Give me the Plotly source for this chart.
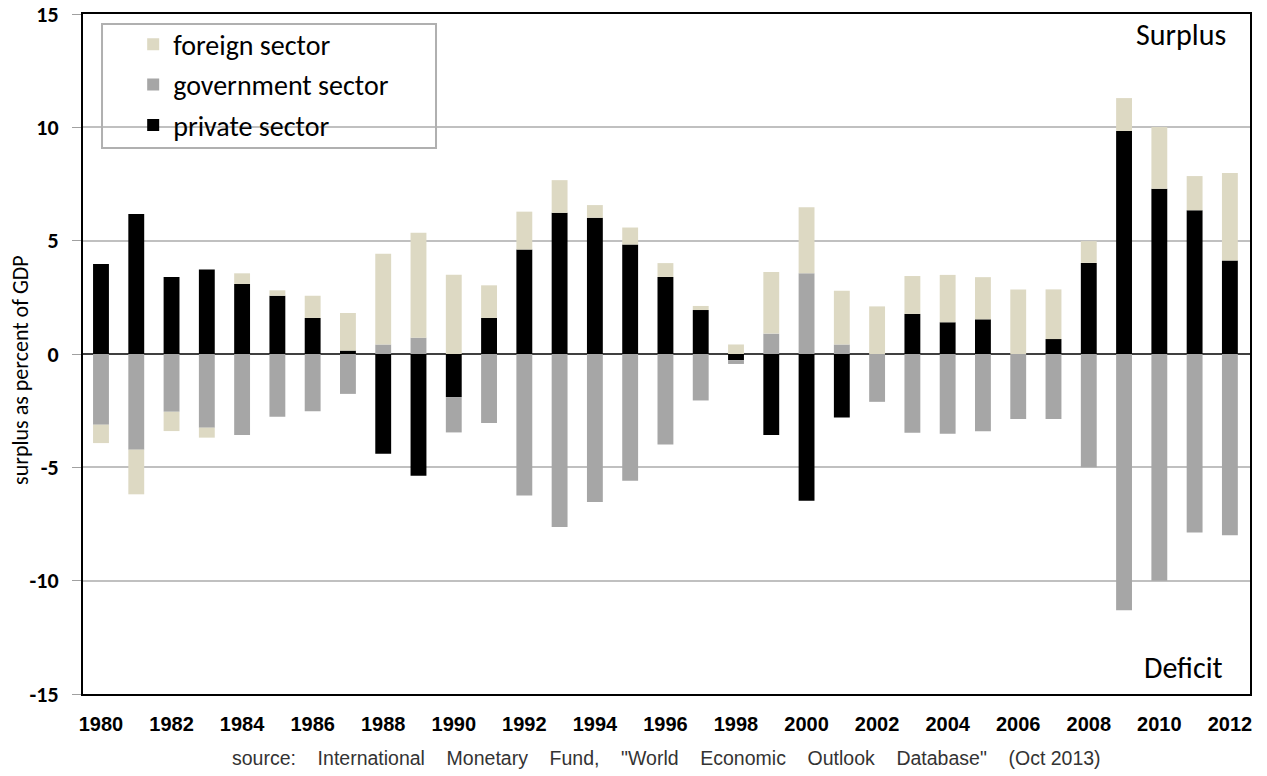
import plotly.graph_objects as go

years = list(range(1980, 2013))

private_sector = [3.97, 6.18, 3.40, 3.73, 3.09, 2.57, 1.59, 0.15, -4.40, -5.37,
                  -1.90, 1.59, 4.61, 6.23, 6.01, 4.83, 3.40, 1.94, -0.27, -3.57,
                  -6.47, -2.80, 0.0, 1.77, 1.40, 1.53, 0.0, 0.66, 4.02, 9.84,
                  7.29, 6.34, 4.13]
government_sector = [-3.12, -4.22, -2.55, -3.25, -3.57, -2.77, -2.53, -1.76, 0.42, 0.72,
                     -1.56, -3.04, -6.24, -7.63, -6.53, -5.59, -3.99, -2.05, -0.17, 0.90,
                     3.56, 0.42, -2.11, -3.47, -3.52, -3.41, -2.87, -2.87, -5.00, -11.31,
                     -10.00, -7.87, -8.00]
foreign_sector = [-0.81, -1.97, -0.85, -0.44, 0.47, 0.24, 0.98, 1.66, 4.00, 4.63,
                  3.50, 1.44, 1.67, 1.44, 0.56, 0.75, 0.61, 0.18, 0.42, 2.72,
                  2.91, 2.37, 2.10, 1.67, 2.09, 1.86, 2.85, 2.19, 0.96, 1.45,
                  2.73, 1.51, 3.85]

y_ticks = [-15, -10, -5, 0, 5, 10, 15]
y_ticktext = ["-15", "-10", "-5", "0", "5", "10", "15"]

calibri = "Carlito, Lato, 'Liberation Sans', sans-serif"
narrow = "'Liberation Sans Narrow', 'Arial Narrow', 'Liberation Sans', sans-serif"

fig = go.Figure()

# stacking order: private first, then government, then foreign
fig.add_trace(go.Bar(x=years, y=private_sector, name="private sector",
                     legendgroup="p", legendrank=3,
                     marker=dict(color="#000000", line=dict(width=0)), width=0.45))
fig.add_trace(go.Bar(x=years, y=government_sector, name="government sector",
                     legendgroup="g", legendrank=2,
                     marker=dict(color="#a6a6a6", line=dict(width=0)), width=0.45))
fig.add_trace(go.Bar(x=years, y=foreign_sector, name="foreign sector",
                     legendgroup="f", legendrank=1,
                     marker=dict(color="#ddd9c3", line=dict(width=0)), width=0.45))

sp = "\u00a0" * 4
source = ("source:" + sp + "International" + sp + "Monetary" + sp + "Fund," + sp
          + "\"World" + sp + "Economic" + sp + "Outlook" + sp + "Database\"" + sp + "(Oct 2013)")

fig.update_layout(
    barmode="relative",
    width=1267, height=776,
    # page body adds an 8px offset, so margins are shifted to compensate
    margin=dict(l=75, r=25, t=6, b=90, autoexpand=False),
    paper_bgcolor="white",
    plot_bgcolor="white",
    showlegend=True,
    legend=dict(
        traceorder="grouped",
        x=0.043, y=0.992, xanchor="left", yanchor="top",
        bgcolor="rgba(0,0,0,0)", borderwidth=0,
        font=dict(family=calibri, size=28, color="#000000"),
        itemwidth=30, tracegroupgap=1,
    ),
    xaxis=dict(
        range=[1979.49, 2012.57], automargin=False,
        tickmode="array", tickvals=years[::2], ticktext=[str(y) for y in years[::2]],
        showgrid=False, zeroline=False,
        showline=True, linecolor="#000000", linewidth=2, mirror=True,
        ticks="", ticklabelstandoff=11,
        tickfont=dict(family=narrow, size=20, color="#000000", weight="bold"),
    ),
    yaxis=dict(
        range=[-15, 15], automargin=False,
        tickmode="array", tickvals=y_ticks, ticktext=y_ticktext,
        showgrid=True, gridcolor="#c0c0c0", gridwidth=1.5,
        zeroline=True, zerolinecolor="#404040", zerolinewidth=1.5,
        showline=True, linecolor="#000000", linewidth=2, mirror=True,
        ticks="outside", ticklen=9, tickcolor="#a0a0a0",
        ticklabelstandoff=9, ticklabeloverflow="allow",
        tickfont=dict(family=calibri, size=22, color="#000000", weight="bold"),
    ),
    shapes=[
        # legend frame
        dict(type="rect", xref="paper", yref="paper",
             x0=0.0163, x1=0.3025, y0=0.8029, y1=0.9853,
             line=dict(color="#b0b0b0", width=2), fillcolor="rgba(0,0,0,0)", layer="above"),
    ],
    annotations=[
        dict(text="surplus as percent of GDP", textangle=-90,
             x=-0.0535, y=0.476, xref="paper", yref="paper",
             xanchor="center", yanchor="middle", showarrow=False,
             font=dict(family=calibri, size=22, color="#000000")),
        dict(text="Surplus", x=0.9815, y=1.0, xref="paper", yref="paper",
             xanchor="right", yanchor="top", showarrow=False,
             font=dict(family=calibri, size=30, color="#000000")),
        dict(text="Deficit", x=0.979, y=0.009, xref="paper", yref="paper",
             xanchor="right", yanchor="bottom", showarrow=False,
             font=dict(family=calibri, size=30, color="#000000")),
        dict(text=source,
             x=0.5, y=-0.0743, xref="paper", yref="paper",
             xanchor="center", yanchor="top", showarrow=False,
             font=dict(family=narrow, size=19.5, color="#333333")),
    ],
)

fig.write_html("out.html")
